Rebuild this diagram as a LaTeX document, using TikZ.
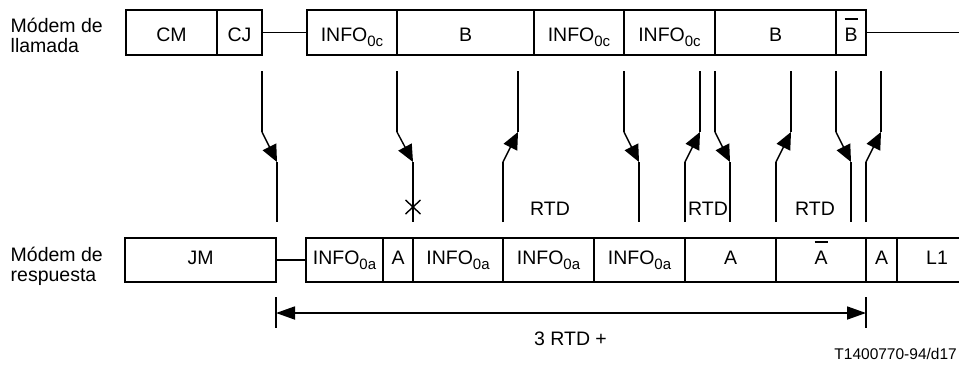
\documentclass[tikz,border=0pt]{standalone}
\usepackage{fontspec}
\setmainfont{Liberation Sans}
\usetikzlibrary{arrows.meta}
\newsavebox\ovbbox
\newcommand\ovb[1]{\sbox\ovbbox{#1}\rlap{\raisebox{22pt}[0pt][0pt]{\rule{\wd\ovbbox}{1.5pt}}}\usebox\ovbbox}
\newcommand\sbs[1]{\raisebox{-5pt}{\fontsize{15}{15}\selectfont #1}}
\tikzset{
  x=1pt, y=-1pt,
  every node/.style={font=\fontsize{19.5}{20}\selectfont, inner sep=0pt},
  boxline/.style={line width=1.8pt},
  tb/.style={draw, rectangle, line width=1.8pt, minimum height=45pt, text height=18pt, text depth=0pt},
  bt/.style={draw, rectangle, line width=1.8pt, minimum height=44pt, text height=13pt, text depth=4pt},
  sig/.style={line width=1.4pt},
  tip/.style={-{Triangle[length=17pt,width=15pt]}},
  lab/.style={align=left, anchor=base west},
}
\begin{document}
\begin{tikzpicture}
\useasboundingbox (0,0) rectangle (959,365);
% labels
\node[lab] (lcall) at (10.5,52.7) {Módem de\\llamada};
\node[lab] (lans) at (10.5,281) {Módem de\\respuesta};
% top row
\node[tb, minimum width=91pt] (cm) at (171.5,32.5) {CM};
\node[tb, minimum width=45pt] (cj) at (239.5,32.5) {CJ};
\node[tb, minimum width=90pt] (i1) at (352,32.5) {INFO\sbs{0c}};
\node[tb, minimum width=137pt] (b1) at (465.5,32.5) {B};
\node[tb, minimum width=90pt] (i2) at (579,32.5) {INFO\sbs{0c}};
\node[tb, minimum width=91pt] (i3) at (669.5,32.5) {INFO\sbs{0c}};
\node[tb, minimum width=121pt] (b2) at (775.5,32.5) {B};
\node[tb, minimum width=30pt] (bb) at (851,32.5) {\ovb{B}};
\coordinate (tend) at (959,32.5);
\draw[boxline] (cj.east) -- (i1.west);
\draw[boxline] (bb.east) -- (tend);
% bottom row
\node[bt, minimum width=151pt] (jm) at (200.5,260) {JM};
\node[bt, minimum width=77pt] (a1) at (344.5,260) {INFO\sbs{0a}};
\node[bt, minimum width=30pt] (a2) at (398,260) {A};
\node[bt, minimum width=90pt] (a3) at (458,260) {INFO\sbs{0a}};
\node[bt, minimum width=91pt] (a4) at (548.5,260) {INFO\sbs{0a}};
\node[bt, minimum width=91pt] (a5) at (639.5,260) {INFO\sbs{0a}};
\node[bt, minimum width=91pt] (a6) at (730.5,260) {A};
\node[bt, minimum width=90pt] (a7) at (821,260) {\ovb{A}};
\node[bt, minimum width=31pt] (a8) at (881.5,260) {A};
\node[bt, minimum width=80pt] (l1) at (937,260) {L1};
\draw[boxline] (jm.east) -- (a1.west);
% signals: down
\foreach \n/\xt/\xb in {1/262/277, 2/397/413, 4/624/639, 6/715/730, 8/836/851} {
  \coordinate (s\n t) at (\xt,71);
  \coordinate (s\n k) at (\xt,132);
  \coordinate (s\n m) at (\xb,162);
  \coordinate (s\n b) at (\xb,222);
  \draw[sig] (s\n t) -- (s\n k);
  \draw[sig,tip] (s\n k) -- (s\n m);
  \draw[sig] (s\n m) -- (s\n b);
}
% signals: up
\foreach \n/\xt/\xb in {3/518/503, 5/700/685, 7/791/776, 9/881/866} {
  \coordinate (s\n t) at (\xt,71);
  \coordinate (s\n k) at (\xt,132);
  \coordinate (s\n m) at (\xb,162);
  \coordinate (s\n b) at (\xb,222);
  \draw[sig] (s\n b) -- (s\n m);
  \draw[sig,tip] (s\n m) -- (s\n k);
  \draw[sig] (s\n k) -- (s\n t);
}
% cross
\coordinate (xc) at (413,207);
\draw[sig] (xc) ++(-7.5,-7) -- ++(15,14);
\draw[sig] (xc) ++(-7.5,7) -- ++(15,-14);
% RTD labels
\node[anchor=base] (r1) at (550,215) {RTD};
\node[anchor=base] (r2) at (708,215) {RTD};
\node[anchor=base] (r3) at (815,215) {RTD};
% bottom measure
\coordinate (ml) at (276,313);
\coordinate (mr) at (866,313);
\coordinate (mlt) at (276,297);
\coordinate (mlb) at (276,328);
\coordinate (mrt) at (866,297);
\coordinate (mrb) at (866,328);
\draw[boxline] (mlt) -- (mlb);
\draw[boxline] (mrt) -- (mrb);
\draw[boxline, {Triangle[length=19pt,width=13pt]}-{Triangle[length=19pt,width=13pt]}] (ml) -- (mr);
\node[anchor=base] (m3) at (570.5,345) {3 RTD +};
\node[anchor=base east, font=\fontsize{15.5}{16}\selectfont] (ref) at (957,359) {T1400770-94/d17};
\end{tikzpicture}
\end{document}
